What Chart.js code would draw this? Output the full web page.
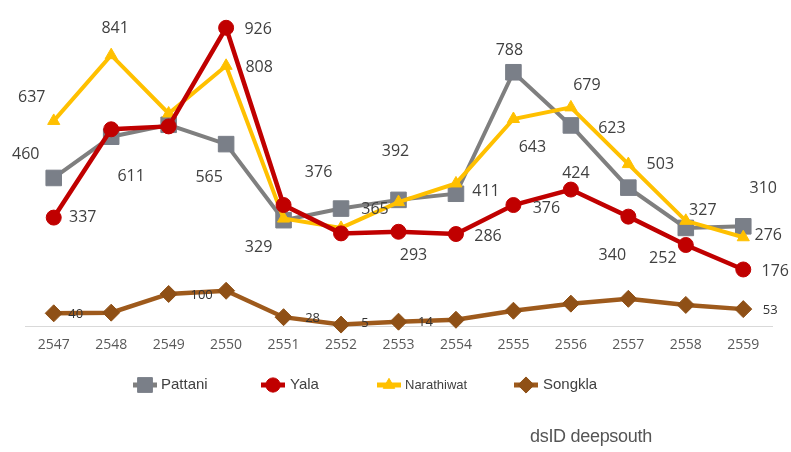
<!DOCTYPE html>
<html lang="th">
<head>
  <meta charset="UTF-8" />
  <title>Pattani Yala Narathiwat Songkla</title>
  <script src="https://cdn.jsdelivr.net/npm/chart.js"></script>
  <style>
    body {
      margin: 0;
      background: #fff;
      font-family: "Open Sans", Arial, sans-serif;
    }
    #wrap {
      position: relative;
      width: 791px;
      height: 452px;
    }
    #logo {
      position: absolute;
      left: 530px;
      top: 426px;
      font-family: "Liberation Sans", Arial, sans-serif;
      font-size: 18px;
      color: #555;
      letter-spacing: -0.3px;
    }
  </style>
</head>
<body>
  <div id="wrap">
    <canvas id="chart" width="791" height="452"></canvas>
    <div id="logo">dsID deepsouth</div>
  </div>

  <script>
    // ข้อมูล (ปี พ.ศ.)
    const years = ['2547', '2548', '2549', '2550', '2551', '2552', '2553', '2554', '2555', '2556', '2557', '2558', '2559'];
    const pattani    = [460, 588, 625, 565, 329, 365, 392, 411, 788, 623, 430, 305, 310];
    const yala       = [337, 611, 620, 926, 376, 288, 293, 286, 376, 424, 340, 252, 176];
    const narathiwat = [637, 841, 660, 808, 334, 305, 385, 443, 643, 679, 503, 327, 276];
    const songkla    = [40, 42, 100, 110, 28, 5, 14, 20, 48, 70, 85, 66, 53];

    // ตำแหน่งป้ายตัวเลข (dx, dy จากจุด) — null = ไม่แสดง
    const offPattani = [[-28,-24], null, null, [-17,33], [-25,27], [34,1], [-3,-48], [30,-2], [-4,-22], [41,3], null, null, [20,-38]];
    const offYala    = [[29,0], [20,47], null, [32,2], [35,-33], null, [15,24], [32,2], [33,3], [5,-16], [-16,39], [-23,13], [32,2]];
    const offNara    = [[-22,-23], [4,-27], null, [33,2], null, null, null, null, [19,28], [16,-22], [32,0], [17,-10], [25,-2]];
    const offSongkla = [[22,1], null, [33,1], null, [29,1], [24,-1], [27,1], null, null, null, null, null, [27,1]];

    const labelPlugin = {
      id: 'pointLabels',
      afterDatasetsDraw(chart) {
        const ctx = chart.ctx;
        chart.data.datasets.forEach((ds, i) => {
          const meta = chart.getDatasetMeta(i);
          meta.data.forEach((pt, j) => {
            const o = ds.labelOffsets[j];
            if (!o) return;
            ctx.save();
            ctx.font = ds.labelFont;
            ctx.fillStyle = ds.labelColor;
            ctx.textAlign = 'center';
            ctx.textBaseline = 'middle';
            ctx.fillText(String(ds.data[j]), pt.x + o[0], pt.y + o[1]);
            ctx.restore();
          });
        });
      }
    };

    // legend แบบ Excel (เส้น + สัญลักษณ์)
    const legendItems = [
      { ds: 0, x: 145, tx: 161, size: 15 },
      { ds: 1, x: 273, tx: 290, size: 15 },
      { ds: 2, x: 389, tx: 405, size: 13 },
      { ds: 3, x: 526, tx: 543, size: 15 }
    ];
    const legendPlugin = {
      id: 'excelLegend',
      afterDraw(chart) {
        const ctx = chart.ctx;
        const y = 385;
        legendItems.forEach(it => {
          const ds = chart.data.datasets[it.ds];
          ctx.save();
          ctx.strokeStyle = ds.borderColor;
          ctx.lineWidth = 5;
          ctx.beginPath();
          ctx.moveTo(it.x - 12, y);
          ctx.lineTo(it.x + 12, y);
          ctx.stroke();
          ctx.fillStyle = ds.pointBackgroundColor;
          ctx.strokeStyle = ds.pointBorderColor;
          ctx.lineWidth = 1;
          Chart.helpers.drawPoint(ctx, { pointStyle: ds.pointStyle, radius: ds.pointRadius * 0.95, rotation: 0, borderWidth: 1 }, it.x, y);
          ctx.fillStyle = '#404040';
          ctx.font = it.size + 'px "Liberation Sans", Arial, sans-serif';
          ctx.textBaseline = 'middle';
          ctx.fillText(ds.label, it.tx, y);
          ctx.restore();
        });
      }
    };

    const labelFont = '16px "Open Sans", sans-serif';

    new Chart(document.getElementById('chart').getContext('2d'), {
      type: 'line',
      data: {
        labels: years,
        datasets: [
          {
            label: 'Pattani', data: pattani, order: 4, clip: false,
            borderColor: '#7f7f7f', borderWidth: 4,
            pointStyle: 'rect', pointRadius: 11,
            pointBackgroundColor: '#7a7f88', pointBorderColor: '#7a7f88', pointBorderWidth: 1,
            labelOffsets: offPattani, labelFont: labelFont, labelColor: '#404040'
          },
          {
            label: 'Yala', data: yala, order: 2, clip: false,
            borderColor: '#c00000', borderWidth: 4.5,
            pointStyle: 'circle', pointRadius: 7.5,
            pointBackgroundColor: '#c00000', pointBorderColor: '#c00000', pointBorderWidth: 1,
            labelOffsets: offYala, labelFont: labelFont, labelColor: '#404040'
          },
          {
            label: 'Narathiwat', data: narathiwat, order: 3, clip: false,
            borderColor: '#ffc000', borderWidth: 4,
            pointStyle: 'triangle', pointRadius: 7,
            pointBackgroundColor: '#ffc000', pointBorderColor: '#ffc000', pointBorderWidth: 1,
            labelOffsets: offNara, labelFont: labelFont, labelColor: '#404040'
          },
          {
            label: 'Songkla', data: songkla, order: 1, clip: false,
            borderColor: '#9e5a1c', borderWidth: 4.5,
            pointStyle: 'rectRot', pointRadius: 8.5,
            pointBackgroundColor: '#8f5016', pointBorderColor: '#8f5016', pointBorderWidth: 1,
            labelOffsets: offSongkla, labelFont: '13px "Open Sans", sans-serif', labelColor: '#333333'
          }
        ]
      },
      options: {
        responsive: false,
        animation: false,
        layout: { padding: { left: 25, right: 19, top: 4, bottom: 89 } },
        plugins: {
          legend: { display: false },
          tooltip: { enabled: false }
        },
        scales: {
          x: {
            offset: true,
            grid: { color: 'transparent', drawTicks: false },
            border: { display: true, color: '#d9d9d9', width: 1 },
            ticks: { color: '#595959', font: { family: 'Open Sans', size: 14 }, padding: 10 }
          },
          y: { display: false, min: 0, max: 975 }
        }
      },
      plugins: [labelPlugin, legendPlugin]
    });
  </script>
</body>
</html>
